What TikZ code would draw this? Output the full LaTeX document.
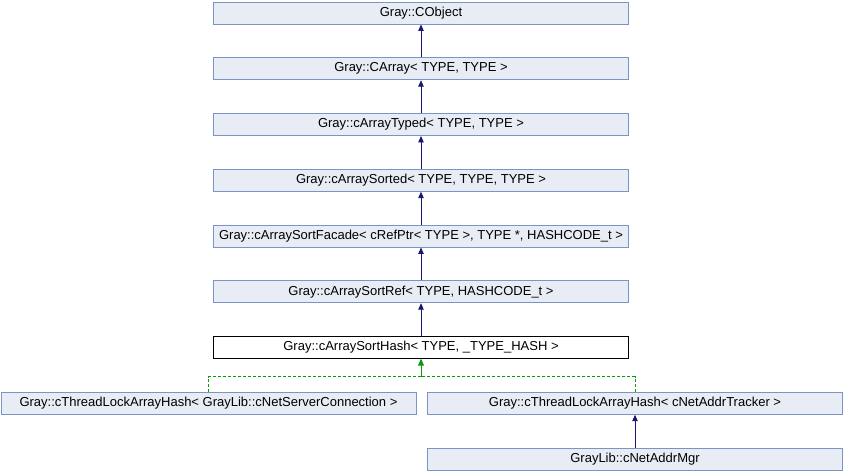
\documentclass[tikz,border=0pt]{standalone}
\usepackage{fontspec}
\setmainfont{Liberation Sans}
\usetikzlibrary{arrows.meta}
\definecolor{boxfill}{HTML}{E8ECF5}
\definecolor{boxline}{HTML}{7C93C5}
\definecolor{edgeblue}{HTML}{191970}
\definecolor{edgegreen}{HTML}{0A9A0A}
\begin{document}
\begin{tikzpicture}[x=1pt,y=-1pt,
  cls/.style={draw=boxline,fill=boxfill,line width=0.9pt,minimum height=22pt,inner sep=0pt,font=\fontsize{13}{15}\selectfont},
  cur/.style={draw=black,fill=white,line width=0.9pt,minimum height=22pt,inner sep=0pt,font=\fontsize{13}{15}\selectfont},
  inh/.style={draw=edgeblue,line width=0.9pt,-{Triangle[length=6.5pt,width=5.5pt]}},
  tmpl/.style={draw=edgegreen,line width=0.9pt,dashed,dash pattern=on 3pt off 2pt,-{Triangle[length=6.5pt,width=5.5pt]}}]
\useasboundingbox (0,0) rectangle (844,472);
\node[cls,minimum width=415pt] (obj) at (421,13) {Gray::CObject};
\node[cls,minimum width=415pt] (arr) at (421,68.75) {Gray::CArray< TYPE, TYPE >};
\node[cls,minimum width=415pt] (typed) at (421,124.5) {Gray::cArrayTyped< TYPE, TYPE >};
\node[cls,minimum width=415pt] (sorted) at (421,180.25) {Gray::cArraySorted< TYPE, TYPE, TYPE >};
\node[cls,minimum width=415pt] (facade) at (421,236) {Gray::cArraySortFacade< cRefPtr< TYPE >, TYPE *, HASHCODE\_t >};
\node[cls,minimum width=415pt] (ref) at (421,291.75) {Gray::cArraySortRef< TYPE, HASHCODE\_t >};
\node[cur,minimum width=415pt] (hash) at (421,347.5) {Gray::cArraySortHash< TYPE, \_TYPE\_HASH >};
\node[cls,minimum width=415pt] (tlsrv) at (208.5,403.25) {Gray::cThreadLockArrayHash< GrayLib::cNetServerConnection >};
\node[cls,minimum width=415pt] (tltrk) at (635,403.25) {Gray::cThreadLockArrayHash< cNetAddrTracker >};
\node[cls,minimum width=415pt] (mgr) at (635,459) {GrayLib::cNetAddrMgr};
\draw[inh] (arr) -- (obj);
\draw[inh] (typed) -- (arr);
\draw[inh] (sorted) -- (typed);
\draw[inh] (facade) -- (sorted);
\draw[inh] (ref) -- (facade);
\draw[inh] (hash) -- (ref);
\coordinate (j) at (421,376.5);
\draw[tmpl] (tlsrv.north) |- (j) -- (hash.south);
\draw[tmpl] (tltrk.north) |- (j) -- (hash.south);
\draw[inh] (mgr) -- (tltrk);
\end{tikzpicture}
\end{document}
